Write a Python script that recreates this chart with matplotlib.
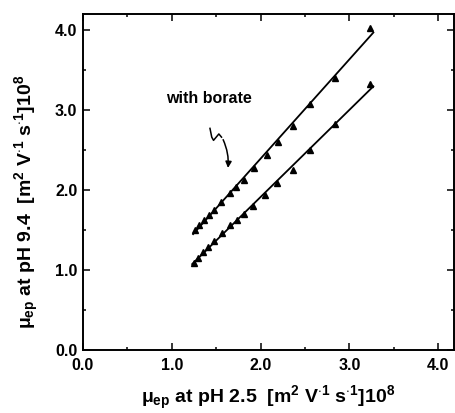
import numpy as np
import matplotlib
matplotlib.use("Agg")
import matplotlib.pyplot as plt
from matplotlib.ticker import MultipleLocator

plt.rcParams['font.family'] = ['Liberation Sans', 'DejaVu Sans']
plt.rcParams['font.weight'] = 'bold'
plt.rcParams['mathtext.fontset'] = 'custom'
plt.rcParams['mathtext.rm'] = 'Liberation Sans:bold'
plt.rcParams['mathtext.it'] = 'Liberation Sans:bold'
plt.rcParams['mathtext.bf'] = 'Liberation Sans:bold'

# mobilities with borate (upper) and without (lower)
borate_x = [1.26, 1.31, 1.36, 1.42, 1.48, 1.55, 1.65, 1.72, 1.81, 1.93, 2.07, 2.20, 2.37, 2.56, 2.84, 3.23]
borate_y = [1.50, 1.56, 1.62, 1.69, 1.75, 1.85, 1.96, 2.04, 2.13, 2.28, 2.44, 2.60, 2.80, 3.07, 3.40, 4.03]
plain_x = [1.25, 1.30, 1.35, 1.41, 1.47, 1.57, 1.66, 1.73, 1.81, 1.92, 2.05, 2.19, 2.37, 2.56, 2.84, 3.23]
plain_y = [1.09, 1.15, 1.22, 1.28, 1.36, 1.46, 1.56, 1.63, 1.70, 1.80, 1.94, 2.09, 2.25, 2.50, 2.83, 3.32]

tick_vals = [0.0, 1.0, 2.0, 3.0, 4.0]
tick_labels = ['0.0', '1.0', '2.0', '3.0', '4.0']

fig = plt.figure(figsize=(4.56, 4.13), dpi=100)
ax = fig.add_axes([0.182, 0.153, 0.814, 0.813])

for xs, ys in [(borate_x, borate_y), (plain_x, plain_y)]:
    xs = np.array(xs)
    ys = np.array(ys)
    k, b = np.polyfit(xs, ys, 1)
    xl = np.array([xs.min() - 0.02, xs.max() + 0.04])
    ax.plot(xl, k * xl + b, color='black', lw=1.3)
    ax.plot(xs, ys, '^', color='black', ms=5, mec='black')

# squiggly pointer under the label
ax.plot([1.43, 1.45, 1.47, 1.53, 1.56], [2.77, 2.66, 2.62, 2.70, 2.66], color='black', lw=1.1)
ax.annotate('', xy=(1.63, 2.24), xytext=(1.565, 2.66),
            arrowprops=dict(arrowstyle='-|>', color='black', lw=1.1,
                            connectionstyle='arc3,rad=-0.15', mutation_scale=9))
ax.text(1.42, 3.14, 'with borate', ha='center', va='center', fontsize=11.5, fontweight='bold')

ax.set_xlim(0, 4.18)
ax.set_ylim(0, 4.2)
ax.set_xticks(tick_vals)
ax.set_xticklabels(tick_labels)
ax.set_yticks(tick_vals)
ax.set_yticklabels(tick_labels)
ax.xaxis.set_minor_locator(MultipleLocator(0.5))
ax.yaxis.set_minor_locator(MultipleLocator(0.5))
ax.tick_params(which='both', direction='in', top=True, right=True, labelsize=11.5, width=1.1)
ax.tick_params(axis='x', which='major', length=5, pad=6)
ax.tick_params(axis='y', which='major', length=5, pad=4)
ax.tick_params(which='minor', length=2.5)
for s in ax.spines.values():
    s.set_linewidth(1.4)

ax.set_xlabel(r'$\mu_{ep}$ at pH 2.5  [m$^2$ V$^{\cdot 1}$ s$^{\cdot 1}$]10$^8$', fontsize=14, fontweight='bold')
ax.set_ylabel(r'$\mu_{ep}$ at pH 9.4  [m$^2$ V$^{\cdot 1}$ s$^{\cdot 1}$]10$^8$', fontsize=14, fontweight='bold')
ax.xaxis.set_label_coords(0.50, -0.142)
ax.xaxis.label.set_va('center')
ax.yaxis.set_label_coords(-0.15, 0.44)
ax.yaxis.label.set_va('center')

fig.savefig('out.png', dpi=100)
